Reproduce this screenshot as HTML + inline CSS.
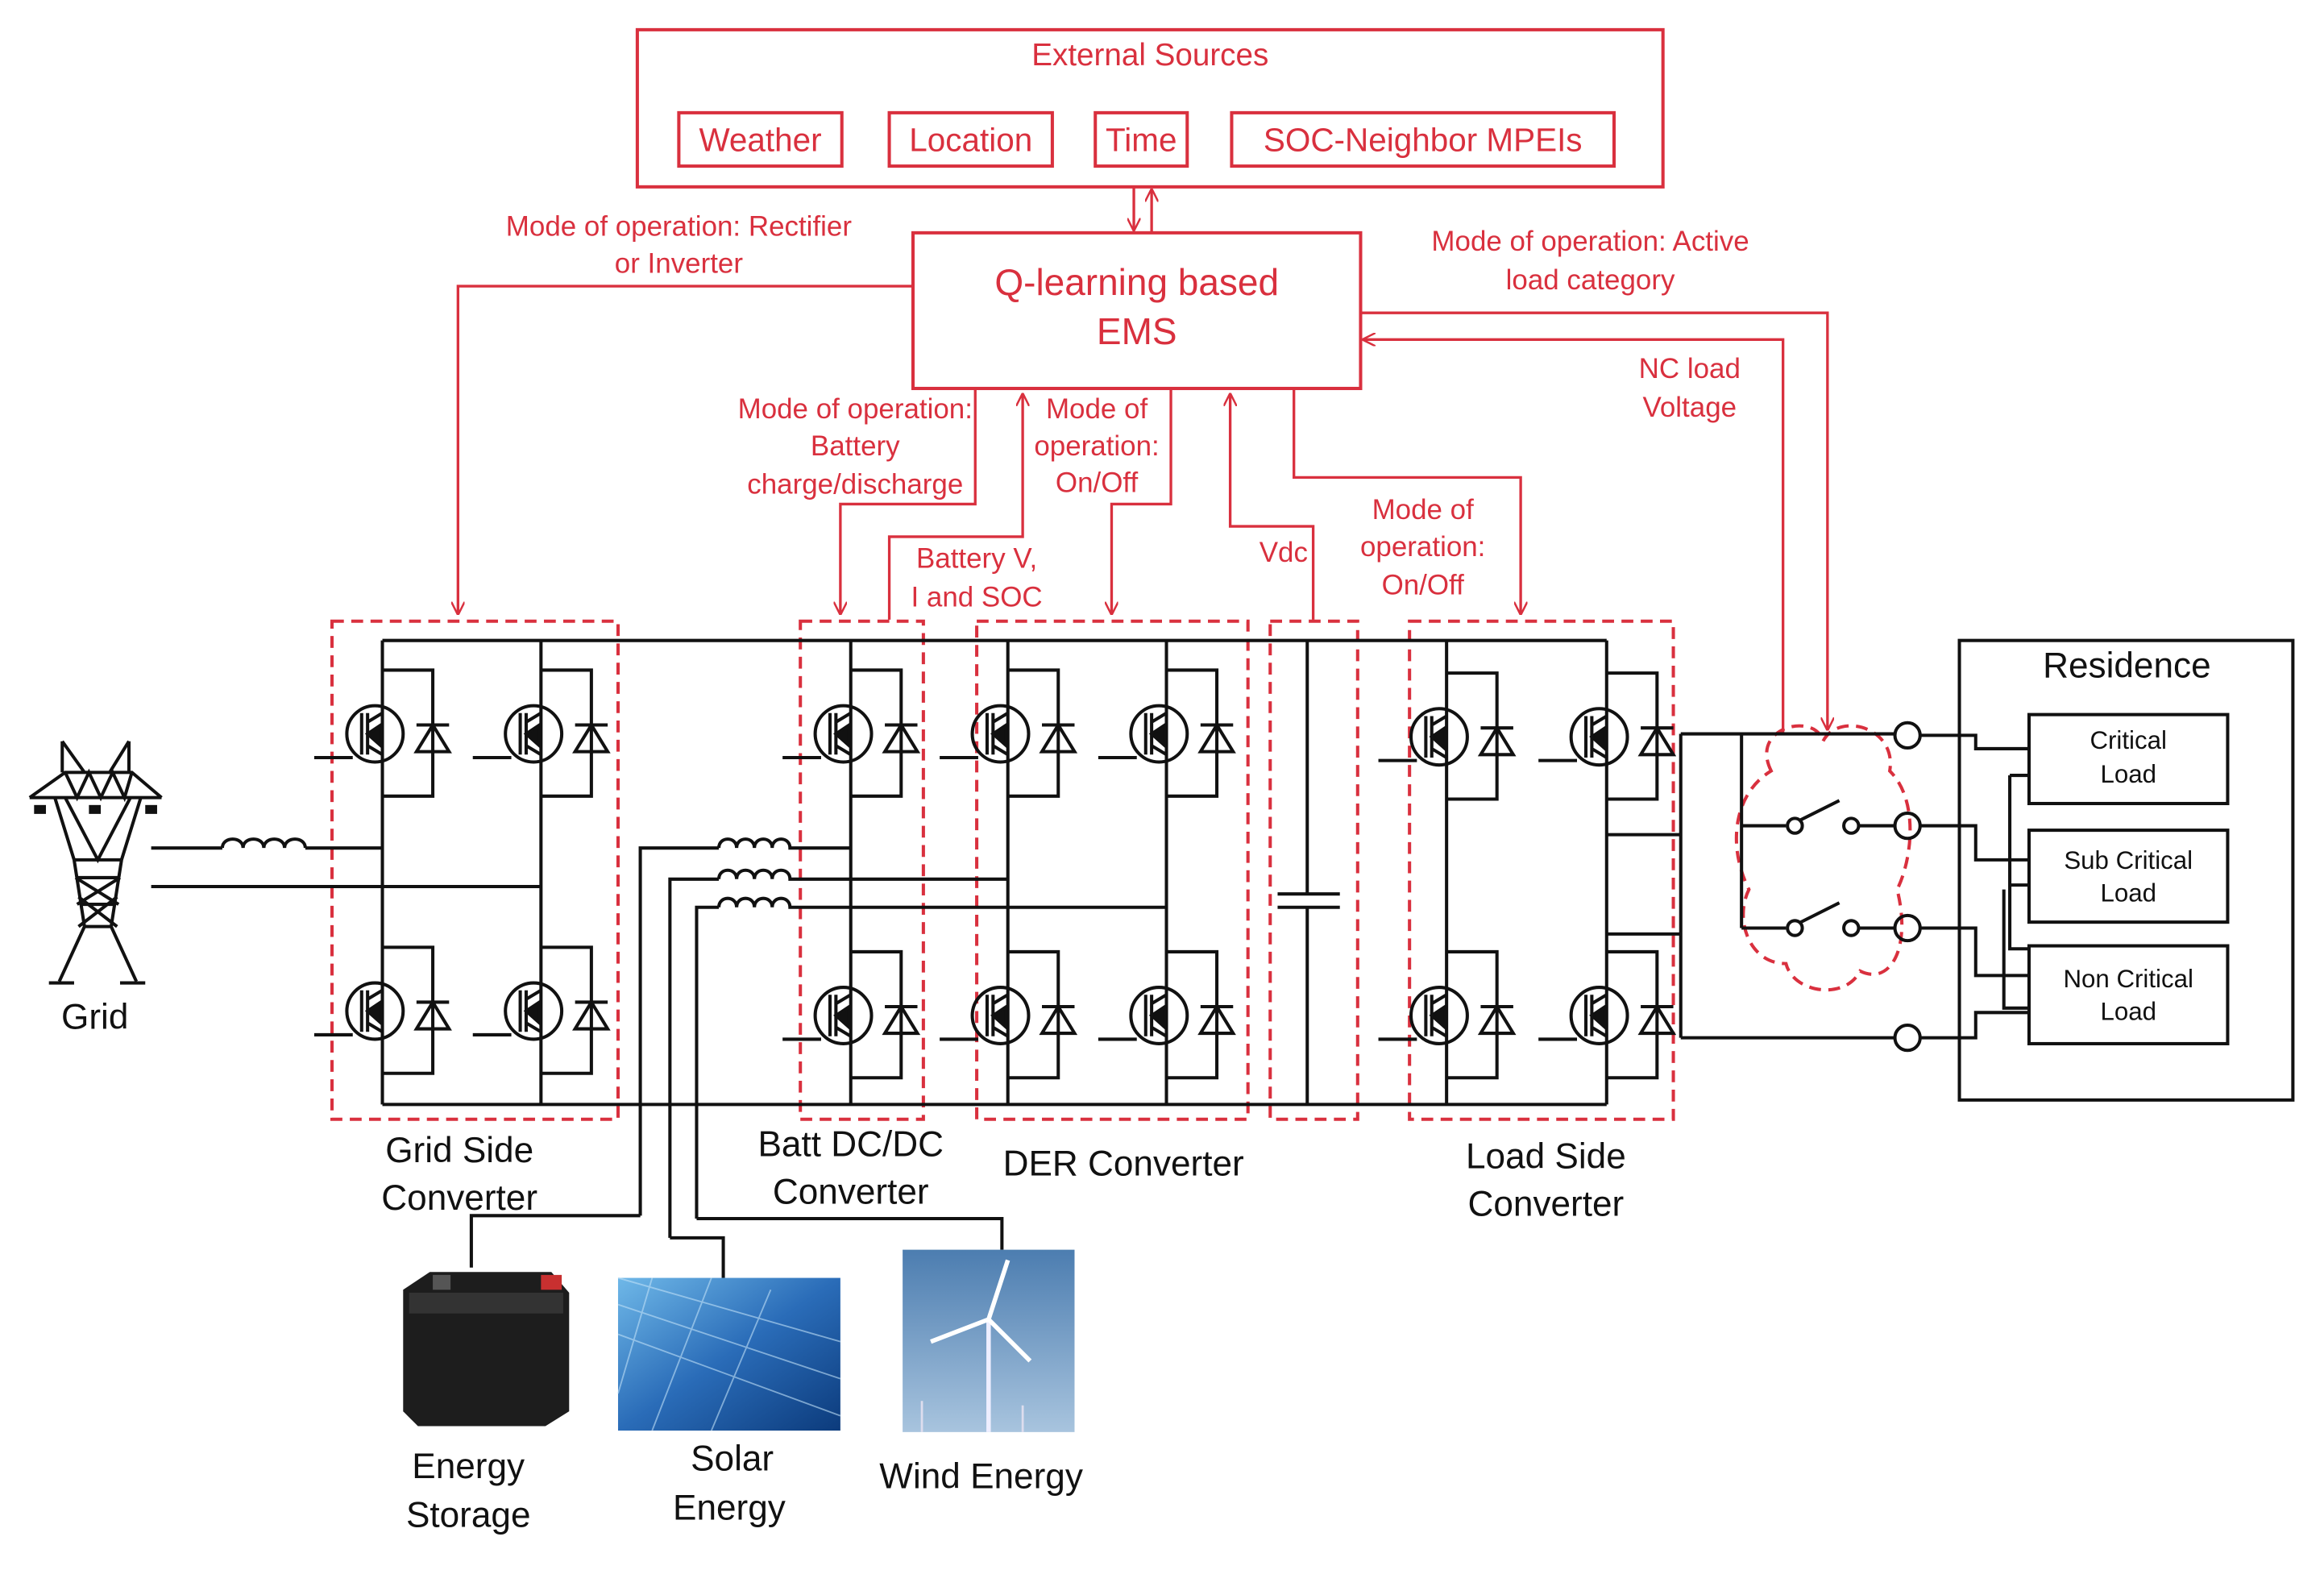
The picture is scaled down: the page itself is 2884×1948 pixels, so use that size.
<!DOCTYPE html>
<html><head><meta charset="utf-8"><style>
html,body{margin:0;padding:0;background:#fff}
svg{display:block}
text{font-family:"Liberation Sans",sans-serif}
.r{fill:#d9303e;font-size:19px;text-anchor:middle}
.k{fill:#111;font-size:24px;text-anchor:middle}
</style></head><body>
<svg width="2884" height="1948" viewBox="0 0 1568 1059" xmlns="http://www.w3.org/2000/svg">
<defs>
<marker id="ah" viewBox="0 0 10 10" refX="9" refY="5" markerWidth="9" markerHeight="9" orient="auto-start-reverse" markerUnits="userSpaceOnUse"><path d="M0,0 L10,5 L0,10" fill="none" stroke="#d9303e" stroke-width="1.5"/></marker>
<g id="sw" fill="none" stroke="#111" stroke-width="2.2">
<circle cx="-5" cy="0" r="19"/>
<path d="M-14,-14V14M-10,-14V14M-10,-8L0,-14M-10,8L0,14"/>
<path d="M-10,0 L-1,-6 L-1,8 Z" fill="#111"/>
<path d="M0,-43H34V42H0"/>
<path d="M23,-6H45"/><path d="M34,-6L23,12H45Z"/>
<path d="M-46,16H-20"/>
</g>
<linearGradient id="sol" x1="0" y1="0" x2="1" y2="1"><stop offset="0" stop-color="#6fb8e8"/><stop offset=".5" stop-color="#2a6cb8"/><stop offset="1" stop-color="#0c3b7c"/></linearGradient>
<linearGradient id="sky" x1="0" y1="0" x2="0" y2="1"><stop offset="0" stop-color="#4c7db0"/><stop offset="1" stop-color="#a8c4de"/></linearGradient>
</defs>

<g fill="none" stroke="#d9303e" stroke-width="2.2">
<rect x="430" y="20" width="692" height="106"/>
<rect x="458" y="76" width="110" height="36"/>
<rect x="600" y="76" width="110" height="36"/>
<rect x="739" y="76" width="62" height="36"/>
<rect x="831" y="76" width="258" height="36"/>
<rect x="616" y="157" width="302" height="105"/>
</g>
<text class="r" x="776" y="44" style="font-size:21px">External Sources</text>
<text class="r" x="513" y="102" style="font-size:22px">Weather</text>
<text class="r" x="655" y="102" style="font-size:22px">Location</text>
<text class="r" x="770" y="102" style="font-size:22px">Time</text>
<text class="r" x="960" y="102" style="font-size:22px">SOC-Neighbor MPEIs</text>
<text class="r" x="767" y="199" style="font-size:25px">Q-learning based</text>
<text class="r" x="767" y="232" style="font-size:25px">EMS</text>

<g fill="none" stroke="#d9303e" stroke-width="1.8">
<path d="M765,126V155" marker-end="url(#ah)"/>
<path d="M777,157V128" marker-end="url(#ah)"/>
<path d="M616,193H309V414" marker-end="url(#ah)"/>
<path d="M658,262V340H567V414" marker-end="url(#ah)"/>
<path d="M600,418V362H690V266" marker-end="url(#ah)"/>
<path d="M790,262V340H750V414" marker-end="url(#ah)"/>
<path d="M886,418V355H830V266" marker-end="url(#ah)"/>
<path d="M873,262V322H1026V414" marker-end="url(#ah)"/>
<path d="M918,211H1233V492" marker-end="url(#ah)"/>
<path d="M1203,495V229H920" marker-end="url(#ah)"/>
</g>
<g class="r">
<text x="458" y="159">Mode of operation: Rectifier</text>
<text x="458" y="184">or Inverter</text>
<text x="1073" y="169">Mode of operation: Active</text>
<text x="1073" y="195">load category</text>
<text x="1140" y="255">NC load</text>
<text x="1140" y="281">Voltage</text>
<text x="577" y="282">Mode of operation:</text>
<text x="577" y="307">Battery</text>
<text x="577" y="333">charge/discharge</text>
<text x="740" y="282">Mode of</text>
<text x="740" y="307">operation:</text>
<text x="740" y="332">On/Off</text>
<text x="659" y="383">Battery V,</text>
<text x="659" y="409">I and SOC</text>
<text x="866" y="379">Vdc</text>
<text x="960" y="350">Mode of</text>
<text x="960" y="375">operation:</text>
<text x="960" y="401">On/Off</text>
</g>

<g fill="none" stroke="#d9303e" stroke-width="2.2" stroke-dasharray="8,5">
<rect x="224" y="419" width="193" height="336"/>
<rect x="540" y="419" width="83" height="336"/>
<rect x="659" y="419" width="183" height="336"/>
<rect x="857" y="419" width="59" height="336"/>
<rect x="951" y="419" width="178" height="336"/>
<path d="M1195,520 C1180,490 1225,480 1230,500 C1240,480 1280,490 1275,520 C1295,540 1290,580 1280,600 C1290,640 1275,665 1255,655 C1245,675 1210,670 1205,650 C1180,650 1170,620 1180,600 C1165,570 1170,535 1195,520 Z"/>
</g>

<g fill="none" stroke="#111" stroke-width="2.2">
<path d="M258,432H1084M258,745H1084"/>
<path d="M258,432V745M365,432V745M574,432V745M680,432V745M787,432V745M976,432V745M1084,432V745"/>
<path d="M882,432V603M862,603H904M862,612H904M882,612V745"/>
<path d="M102,572H150"/>
<path d="M150,572c0-8,14-8,14,0c0-8,14-8,14,0c0-8,14-8,14,0c0-8,14-8,14,0"/>
<path d="M206,572H258M102,598H365"/>
<path d="M432,820V572H485"/>
<path d="M485,572c0-8,12-8,12,0c0-8,12-8,12,0c0-8,12-8,12,0c0-8,12-8,12,0H574"/>
<path d="M452,835V593H485"/>
<path d="M485,593c0-8,12-8,12,0c0-8,12-8,12,0c0-8,12-8,12,0c0-8,12-8,12,0H680"/>
<path d="M470,822V612H485"/>
<path d="M485,612c0-8,12-8,12,0c0-8,12-8,12,0c0-8,12-8,12,0c0-8,12-8,12,0H787"/>
<path d="M432,820H318V855M452,835H488V862M470,822H676V843"/>
<path d="M1084,563H1134M1084,630H1134M1134,495V700"/>
<path d="M1134,495H1278M1134,700H1278M1175,495V626"/>
<path d="M1175,557H1205M1175,626H1205"/>
<circle cx="1211" cy="557" r="5"/><circle cx="1211" cy="626" r="5"/>
<circle cx="1249" cy="557" r="5"/><circle cx="1249" cy="626" r="5"/>
<path d="M1215,553L1241,540M1215,622L1241,609"/>
<path d="M1254,557H1278M1254,626H1278"/>
<circle cx="1287" cy="496" r="8.5"/><circle cx="1287" cy="557" r="8.5"/>
<circle cx="1287" cy="626" r="8.5"/><circle cx="1287" cy="700" r="8.5"/>
<path d="M1296,496H1333V505H1369M1296,557H1333V580H1369M1296,626H1333V658H1369M1296,700H1333V683H1369"/>
<path d="M1356,523H1369M1356,523V640H1369M1356,597H1369M1352,600V680H1369"/>
<rect x="1322" y="432" width="225" height="310"/>
<rect x="1369" y="482" width="134" height="60"/>
<rect x="1369" y="560" width="134" height="62"/>
<rect x="1369" y="638" width="134" height="66"/>
<!-- tower -->
<path d="M33,663H50M81,663H98M40,662L57,625M92,662L75,625M57,625H75M50,580L57,625M82,580L75,625M51,592H81M54,610H78M53,605L79,625M79,605L53,625M51,592L80,610M81,592L52,610M50,580H82"/>
<path d="M20,538H109M20,538L44,521H89L109,538M42,500V521M87,500V521M42,500L57,521M87,500L74,521M44,538L66,580L88,538M37,538L50,580M95,538L82,580M44,521L52,538L60,521L68,538L76,521L84,538L89,521"/>
</g>
<g fill="#111">
<rect x="23" y="543" width="8" height="6"/><rect x="60" y="543" width="8" height="6"/><rect x="98" y="543" width="8" height="6"/>
</g>
<use href="#sw" x="258" y="495"/><use href="#sw" x="365" y="495"/>
<use href="#sw" x="258" y="682"/><use href="#sw" x="365" y="682"/>
<use href="#sw" x="574" y="495"/><use href="#sw" x="574" y="685"/>
<use href="#sw" x="680" y="495"/><use href="#sw" x="787" y="495"/>
<use href="#sw" x="680" y="685"/><use href="#sw" x="787" y="685"/>
<use href="#sw" x="976" y="497"/><use href="#sw" x="1084" y="497"/>
<use href="#sw" x="976" y="685"/><use href="#sw" x="1084" y="685"/>

<text class="k" x="64" y="694">Grid</text>
<text class="k" x="310" y="784">Grid Side</text>
<text class="k" x="310" y="816">Converter</text>
<text class="k" x="574" y="780">Batt DC/DC</text>
<text class="k" x="574" y="812">Converter</text>
<text class="k" x="758" y="793">DER Converter</text>
<text class="k" x="1043" y="788">Load Side</text>
<text class="k" x="1043" y="820">Converter</text>
<text class="k" x="1435" y="457">Residence</text>
<g class="k"><text x="1436" y="505" style="font-size:17px">Critical</text><text x="1436" y="528" style="font-size:17px">Load</text>
<text x="1436" y="586" style="font-size:17px">Sub Critical</text><text x="1436" y="608" style="font-size:17px">Load</text>
<text x="1436" y="666" style="font-size:17px">Non Critical</text><text x="1436" y="688" style="font-size:17px">Load</text></g>

<path d="M272,870L290,858H372L384,872V952L368,962H282L272,952Z" fill="#1d1d1d"/>
<rect x="276" y="872" width="104" height="14" fill="#333"/>
<rect x="365" y="860" width="14" height="10" fill="#c83030"/>
<rect x="292" y="860" width="12" height="10" fill="#555"/>
<rect x="417" y="862" width="150" height="103" fill="url(#sol)"/>
<path d="M417,862L567,905M417,880L567,930M417,900L567,955M440,862L417,940M480,862L440,965M520,870L480,965" stroke="#bfe0f7" stroke-width="1" opacity=".6"/>
<rect x="609" y="843" width="116" height="123" fill="url(#sky)"/>
<path d="M667,966V890" stroke="#eef" stroke-width="3"/>
<path d="M667,890L680,850M667,890L695,918M667,890L628,905" stroke="#fff" stroke-width="3"/>
<path d="M622,966V945M690,966V948" stroke="#dde" stroke-width="1.5"/>
<text class="k" x="316" y="997">Energy</text>
<text class="k" x="316" y="1030">Storage</text>
<text class="k" x="494" y="992">Solar</text>
<text class="k" x="492" y="1025">Energy</text>
<text class="k" x="662" y="1004">Wind Energy</text>
</svg>
</body></html>
